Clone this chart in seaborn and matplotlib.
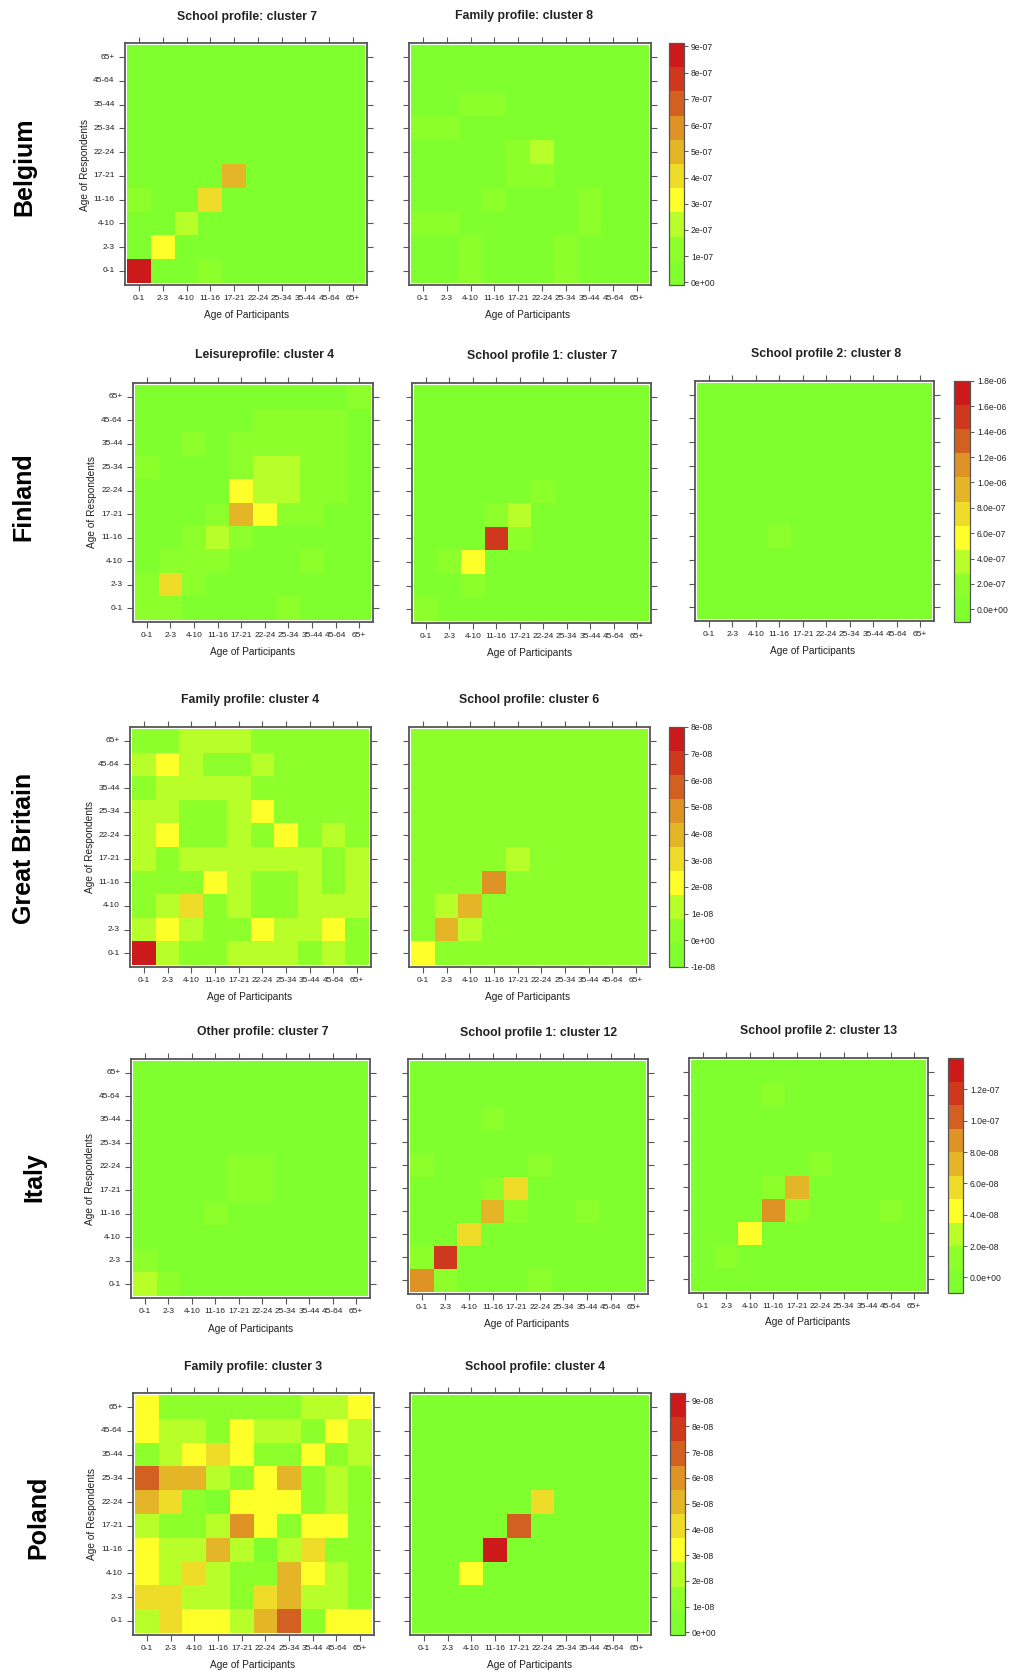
import numpy as np
import pandas as pd
import matplotlib
matplotlib.use("Agg")
import matplotlib.pyplot as plt
from matplotlib.colors import ListedColormap
import seaborn as sns

W, H = 1010, 1673
ages = ["0-1", "2-3", "4-10", "11-16", "17-21", "22-24", "25-34", "35-44", "45-64", "65+"]
ages_top_down = ages[::-1]
band_colors = ["#80FF2E", "#8DFF2B", "#B8FF2A", "#FFFF2A", "#EFDC28",
               "#E5B528", "#DF9325", "#D26020", "#CF381C", "#CC1A1A"]

# Band index of each cell; rows run 65+ down to 0-1, columns 0-1 to 65+
be_school = [[0,0,0,0,0,0,0,0,0,0],[0,0,0,0,0,0,0,0,0,0],[0,0,0,0,0,0,0,0,0,0],[0,0,0,0,0,0,0,0,0,0],
             [0,0,0,0,0,0,0,0,0,0],[0,0,0,0,5,0,0,0,0,0],[1,0,0,4,0,0,0,0,0,0],[0,0,2,0,0,0,0,0,0,0],
             [0,3,0,0,0,0,0,0,0,0],[9,0,0,1,0,0,0,0,0,0]]
be_family = [[0,0,0,0,0,0,0,0,0,0],[0,0,0,0,0,0,0,0,0,0],[0,0,1,1,0,0,0,0,0,0],[1,1,0,0,0,0,0,0,0,0],
             [0,0,0,0,1,2,0,0,0,0],[0,0,0,0,1,1,0,0,0,0],[0,0,0,1,0,0,0,1,0,0],[1,1,0,0,0,0,0,1,0,0],
             [0,0,1,0,0,0,1,0,0,0],[0,0,1,0,0,0,1,0,0,0]]
fi_leisure = [[0,0,0,0,0,0,0,0,0,1],[0,0,0,0,0,1,1,1,1,0],[0,0,1,0,1,1,1,1,1,0],[1,0,0,0,1,2,2,1,1,0],
              [0,0,0,0,3,2,2,1,1,0],[0,0,0,1,5,3,1,1,0,0],[0,0,1,2,1,0,0,0,0,0],[0,1,1,1,0,0,0,1,0,0],
              [1,4,1,0,0,0,0,0,0,0],[1,1,0,0,0,0,1,0,0,0]]
fi_school1 = [[0,0,0,0,0,0,0,0,0,0],[0,0,0,0,0,0,0,0,0,0],[0,0,0,0,0,0,0,0,0,0],[0,0,0,0,0,0,0,0,0,0],
              [0,0,0,0,0,1,0,0,0,0],[0,0,0,1,2,0,0,0,0,0],[0,0,0,8,1,0,0,0,0,0],[0,1,3,0,0,0,0,0,0,0],
              [0,0,1,0,0,0,0,0,0,0],[1,0,0,0,0,0,0,0,0,0]]
fi_school2 = [[0,0,0,0,0,0,0,0,0,0],[0,0,0,0,0,0,0,0,0,0],[0,0,0,0,0,0,0,0,0,0],[0,0,0,0,0,0,0,0,0,0],
              [0,0,0,0,0,0,0,0,0,0],[0,0,0,0,0,0,0,0,0,0],[0,0,0,1,0,0,0,0,0,0],[0,0,0,0,0,0,0,0,0,0],
              [0,0,0,0,0,0,0,0,0,0],[0,0,0,0,0,0,0,0,0,0]]
gb_family = [[1,1,2,2,2,1,1,1,1,1],[2,3,2,1,1,2,1,1,1,1],[1,2,2,2,2,1,1,1,1,1],[2,2,1,1,2,3,1,1,1,1],
             [2,3,1,1,2,1,3,1,2,1],[2,1,2,2,2,2,2,2,1,2],[1,1,1,3,2,1,1,2,1,2],[1,2,4,1,2,1,1,2,2,2],
             [2,3,2,1,1,3,2,2,3,1],[9,2,1,1,2,2,2,1,2,1]]
gb_school = [[1,1,1,1,1,1,1,1,1,1],[1,1,1,1,1,1,1,1,1,1],[1,1,1,1,1,1,1,1,1,1],[1,1,1,1,1,1,1,1,1,1],
             [1,1,1,1,1,1,1,1,1,1],[1,1,1,1,2,1,1,1,1,1],[1,1,1,6,1,1,1,1,1,1],[1,2,5,1,1,1,1,1,1,1],
             [1,5,2,1,1,1,1,1,1,1],[3,1,1,1,1,1,1,1,1,1]]
it_other = [[0,0,0,0,0,0,0,0,0,0],[0,0,0,0,0,0,0,0,0,0],[0,0,0,0,0,0,0,0,0,0],[0,0,0,0,0,0,0,0,0,0],
            [0,0,0,0,1,1,0,0,0,0],[0,0,0,0,1,1,0,0,0,0],[0,0,0,1,0,0,0,0,0,0],[0,0,0,0,0,0,0,0,0,0],
            [1,0,0,0,0,0,0,0,0,0],[2,1,0,0,0,0,0,0,0,0]]
it_school1 = [[0,0,0,0,0,0,0,0,0,0],[0,0,0,0,0,0,0,0,0,0],[0,0,0,1,0,0,0,0,0,0],[0,0,0,0,0,0,0,0,0,0],
              [1,0,0,0,0,1,0,0,0,0],[0,0,0,1,4,0,0,0,0,0],[0,0,0,5,1,0,0,1,0,0],[0,0,4,0,0,0,0,0,0,0],
              [1,8,0,0,0,0,0,0,0,0],[6,1,0,0,0,1,0,0,0,0]]
it_school2 = [[0,0,0,0,0,0,0,0,0,0],[0,0,0,1,0,0,0,0,0,0],[0,0,0,0,0,0,0,0,0,0],[0,0,0,0,0,0,0,0,0,0],
              [0,0,0,0,0,1,0,0,0,0],[0,0,0,1,5,0,0,0,0,0],[0,0,0,6,1,0,0,0,1,0],[0,0,3,0,0,0,0,0,0,0],
              [0,1,0,0,0,0,0,0,0,0],[0,0,0,0,0,0,0,0,0,0]]
pl_family = [[3,1,1,1,1,1,1,2,2,3],[3,2,2,1,3,2,2,1,3,2],[1,2,3,4,3,1,1,3,1,2],[7,5,5,2,1,3,5,1,2,1],
             [5,4,1,0,3,3,3,1,2,1],[2,1,1,2,6,3,1,3,3,1],[3,2,2,5,2,0,2,4,1,1],[3,2,4,2,1,1,5,3,2,1],
             [4,4,2,2,1,4,5,2,2,1],[2,4,3,3,2,5,7,1,3,3]]
pl_school = [[0,0,0,0,0,0,0,0,0,0],[0,0,0,0,0,0,0,0,0,0],[0,0,0,0,0,0,0,0,0,0],[0,0,0,0,0,0,0,0,0,0],
             [0,0,0,0,0,4,0,0,0,0],[0,0,0,0,7,0,0,0,0,0],[0,0,0,9,0,0,0,0,0,0],[0,0,3,0,0,0,0,0,0,0],
             [0,0,0,0,0,0,0,0,0,0],[0,0,0,0,0,0,0,0,0,0]]

# colour-scale ends per country
be_range = (-0.1e-7, 9.13e-7); fi_range = (-1e-7, 1.8e-6); gb_range = (-1e-8, 8e-8)
it_range = (-1e-8, 1.4e-7); pl_range = (-0.1e-8, 9.3e-8)
be_ticks = [0, 1e-7, 2e-7, 3e-7, 4e-7, 5e-7, 6e-7, 7e-7, 8e-7, 9e-7]
be_tick_labels = ["0e+00", "1e-07", "2e-07", "3e-07", "4e-07", "5e-07", "6e-07", "7e-07", "8e-07", "9e-07"]
fi_ticks = [0, 2e-7, 4e-7, 6e-7, 8e-7, 1e-6, 1.2e-6, 1.4e-6, 1.6e-6, 1.8e-6]
fi_tick_labels = ["0.0e+00", "2.0e-07", "4.0e-07", "6.0e-07", "8.0e-07", "1.0e-06", "1.2e-06", "1.4e-06", "1.6e-06", "1.8e-06"]
gb_ticks = [-1e-8, 0, 1e-8, 2e-8, 3e-8, 4e-8, 5e-8, 6e-8, 7e-8, 8e-8]
gb_tick_labels = ["-1e-08", "0e+00", "1e-08", "2e-08", "3e-08", "4e-08", "5e-08", "6e-08", "7e-08", "8e-08"]
it_ticks = [0, 2e-8, 4e-8, 6e-8, 8e-8, 1e-7, 1.2e-7]
it_tick_labels = ["0.0e+00", "2.0e-08", "4.0e-08", "6.0e-08", "8.0e-08", "1.0e-07", "1.2e-07"]
pl_ticks = [0, 1e-8, 2e-8, 3e-8, 4e-8, 5e-8, 6e-8, 7e-8, 8e-8, 9e-8]
pl_tick_labels = ["0e+00", "1e-08", "2e-08", "3e-08", "4e-08", "5e-08", "6e-08", "7e-08", "8e-08", "9e-08"]

sns.set_theme(style="white")
plt.rcParams["font.family"] = ["Liberation Sans", "DejaVu Sans"]
fig = plt.figure(figsize=(W / 100, H / 100), dpi=100, facecolor="white")
cmap = ListedColormap(band_colors)
EDGE = "#565656"


def box(x0, y0, x1, y1):
    return [x0 / W, 1 - y1 / H, (x1 - x0) / W, (y1 - y0) / H]


def panel(levels, rng, frame, title, title_xy, xlabel_xy, ylabel_xy=None, cbar=None):
    x0, y0, x1, y1 = frame
    ax = fig.add_axes(box(*frame))
    step = (rng[1] - rng[0]) / 10
    values = rng[0] + (np.array(levels, dtype=float) + 0.5) * step
    df = pd.DataFrame(values, index=ages_top_down, columns=ages)
    kw = dict(cbar=False)
    if cbar is not None:
        cax = fig.add_axes(box(*cbar[0]))
        kw = dict(cbar=True, cbar_ax=cax, cbar_kws={"ticks": cbar[1]})
    sns.heatmap(df, ax=ax, cmap=cmap, vmin=rng[0], vmax=rng[1], linewidths=0, **kw)
    ax.set_xlim(-0.09, 10.09)
    ax.set_ylim(10.09, -0.09)
    ax.set_facecolor("white")
    for s in ax.spines.values():
        s.set_visible(True)
        s.set_color(EDGE)
        s.set_linewidth(1.3)
    ax.tick_params(axis="both", which="major", length=4, width=0.8, color=EDGE,
                   top=True, right=True, bottom=True, left=True,
                   labelsize=6.0, labelcolor="#222222", pad=3.5)
    ax.tick_params(axis="x", labelrotation=0)
    ax.tick_params(axis="y", labelrotation=0, labelleft=ylabel_xy is not None)
    ax.set_title(title, fontsize=8.8, fontweight="bold", color="#222222",
                 x=(title_xy[0] - x0) / (x1 - x0), y=(y1 - title_xy[1]) / (y1 - y0),
                 va="center", pad=0)
    ax.set_xlabel("Age of Participants", fontsize=7.3, color="#222222")
    ax.xaxis.set_label_coords((xlabel_xy[0] - x0) / (x1 - x0), (y1 - xlabel_xy[1]) / (y1 - y0))
    ax.xaxis.label.set_verticalalignment("center")
    if ylabel_xy is not None:
        ax.set_ylabel("Age of Respondents", fontsize=7.3, color="#222222")
        ax.yaxis.set_label_coords((ylabel_xy[0] - x0) / (x1 - x0), (y1 - ylabel_xy[1]) / (y1 - y0))
        ax.yaxis.label.set_verticalalignment("center")
    else:
        ax.set_ylabel("")
    if cbar is not None:
        cb = ax.collections[0].colorbar
        cb.set_ticks(cbar[1])
        cb.set_ticklabels(cbar[2])
        cb.ax.tick_params(length=3, width=0.7, color=EDGE, labelsize=6.2,
                          labelcolor="#222222", pad=2, right=True, left=False)
        cb.outline.set_edgecolor(EDGE)
        cb.outline.set_linewidth(0.9)
        cb.outline.set_visible(True)


# Belgium
panel(be_school, be_range, (125, 43, 367, 285), "School profile: cluster 7", (247, 17), (247, 315), (85, 165))
panel(be_family, be_range, (409, 43, 651, 285), "Family profile: cluster 8", (524, 16), (528, 315),
      cbar=((669, 43, 684, 285), be_ticks, be_tick_labels))
# Finland
panel(fi_leisure, fi_range, (133, 383, 373, 622), "Leisureprofile: cluster 4", (265, 355), (253, 652), (92, 502))
panel(fi_school1, fi_range, (412, 383, 651, 623), "School profile 1: cluster 7", (542, 356), (530, 653))
panel(fi_school2, fi_range, (695, 381, 934, 621), "School profile 2: cluster 8", (826, 354), (813, 651),
      cbar=((954, 381, 970, 622), fi_ticks, fi_tick_labels))
# Great Britain
panel(gb_family, gb_range, (130, 727, 371, 967), "Family profile: cluster 4", (250, 700), (250, 997), (90, 847))
panel(gb_school, gb_range, (409, 727, 650, 967), "School profile: cluster 6", (529, 700), (528, 997),
      cbar=((669, 727, 684, 967), gb_ticks, gb_tick_labels))
# Italy
panel(it_other, it_range, (131, 1059, 370, 1298), "Other profile: cluster 7", (263, 1032), (251, 1329), (90, 1179))
panel(it_school1, it_range, (408, 1059, 648, 1294), "School profile 1: cluster 12", (539, 1033), (527, 1324))
panel(it_school2, it_range, (689, 1058, 928, 1293), "School profile 2: cluster 13", (819, 1031), (808, 1322),
      cbar=((948, 1058, 963, 1293), it_ticks, it_tick_labels))
# Poland
panel(pl_family, pl_range, (133, 1393, 374, 1635), "Family profile: cluster 3", (253, 1367), (253, 1665), (92, 1514))
panel(pl_school, pl_range, (410, 1393, 651, 1635), "School profile: cluster 4", (535, 1367), (530, 1665),
      cbar=((670, 1393, 685, 1635), pl_ticks, pl_tick_labels))

countries = ["Belgium", "Finland", "Great Britain", "Italy", "Poland"]
country_x = [24, 23, 24, 34, 38]
country_y = [167, 497, 848, 1177, 1517]
for name, cx, cy in zip(countries, country_x, country_y):
    fig.text(cx / W, 1 - cy / H, name, rotation=90, ha="center", va="center",
             fontsize=18, fontweight="bold", color="black")

fig.savefig("out.png", dpi=100, facecolor="white")
